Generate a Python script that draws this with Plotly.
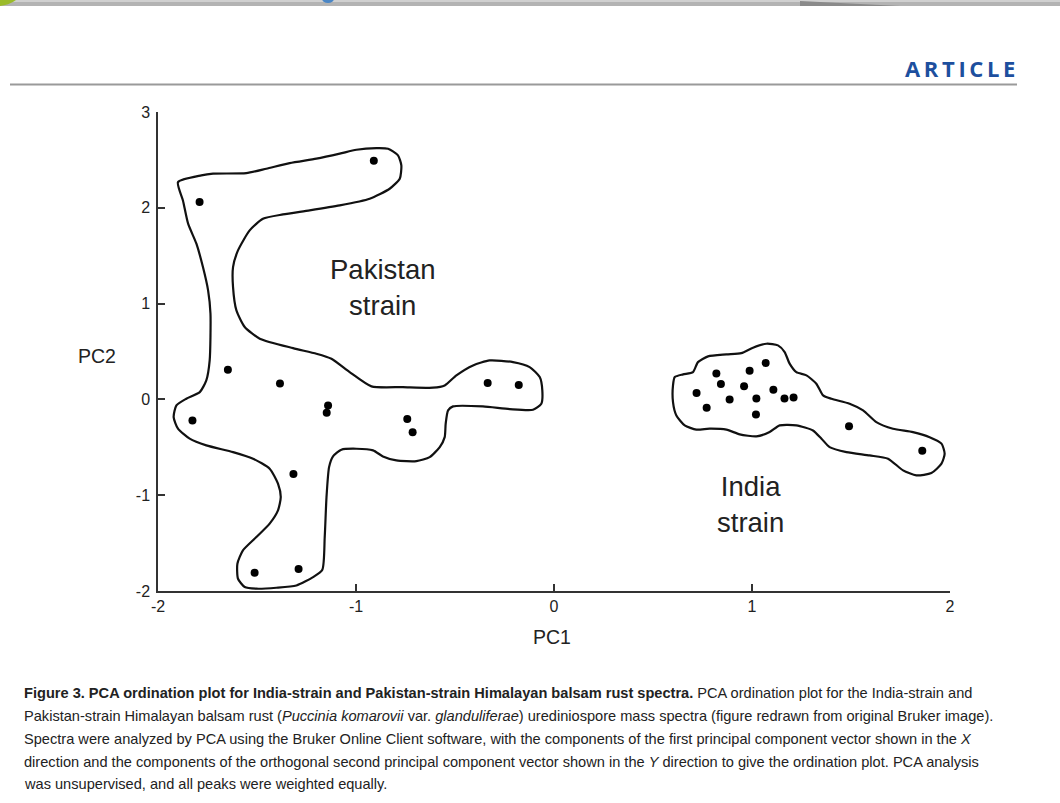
import plotly.graph_objects as go

# ---------------- data ----------------
pak_pc1 = [-0.91, -1.79, -1.647, -1.384, -1.141, -1.148, -1.826, -0.741, -0.714,
           -0.335, -0.178, -1.316, -1.29, -1.512]
pak_pc2 = [2.49, 2.06, 0.31, 0.167, -0.063, -0.139, -0.219, -0.205, -0.344,
           0.17, 0.15, -0.78, -1.77, -1.81]

ind_pc1 = [0.72, 0.82, 0.843, 0.771, 0.887, 0.96, 0.988, 1.069, 1.022, 1.02,
           1.108, 1.164, 1.21, 1.49, 1.86]
ind_pc2 = [0.066, 0.27, 0.16, -0.087, 0.0, 0.136, 0.30, 0.38, 0.01, -0.157,
           0.10, 0.01, 0.02, -0.28, -0.535]

pak_hull_x = [-1.899, -1.781, -1.722, -1.554, -1.453, -1.335, -1.2, -1.082, -0.998, -0.897,
              -0.838, -0.788, -0.771, -0.779, -0.83, -0.931, -1.082, -1.234, -1.369, -1.47,
              -1.537, -1.596, -1.621, -1.621, -1.604, -1.562, -1.486, -1.318, -1.2, -1.124,
              -1.032, -0.922, -0.763, -0.611, -0.552, -0.493, -0.409, -0.325, -0.207, -0.123,
              -0.072, -0.059, -0.064, -0.106, -0.224, -0.359, -0.51, -0.535, -0.547, -0.552,
              -0.577, -0.628, -0.695, -0.796, -0.864, -0.914, -0.998, -1.074, -1.116, -1.136,
              -1.149, -1.158, -1.17, -1.217, -1.301, -1.402, -1.503, -1.562, -1.596, -1.599,
              -1.571, -1.503, -1.436, -1.394, -1.38, -1.394, -1.436, -1.52, -1.621, -1.756,
              -1.84, -1.899, -1.921, -1.907, -1.857, -1.789, -1.756, -1.739, -1.735, -1.747,
              -1.773, -1.806, -1.848, -1.874, -1.899]
pak_hull_y = [2.268, 2.338, 2.356, 2.362, 2.408, 2.467, 2.513, 2.565, 2.606, 2.623,
              2.617, 2.547, 2.443, 2.304, 2.199, 2.095, 2.025, 1.973, 1.931, 1.886,
              1.764, 1.555, 1.381, 1.172, 0.929, 0.755, 0.634, 0.535, 0.477, 0.425,
              0.285, 0.136, 0.128, 0.122, 0.146, 0.251, 0.355, 0.407, 0.389, 0.337,
              0.233, 0.094, -0.045, -0.108, -0.101, -0.073, -0.073, -0.115, -0.254, -0.394,
              -0.498, -0.602, -0.644, -0.637, -0.595, -0.532, -0.515, -0.525, -0.595, -0.707,
              -1.02, -1.437, -1.778, -1.855, -1.942, -1.966, -1.976, -1.959, -1.872, -1.715,
              -1.576, -1.437, -1.297, -1.159, -1.02, -0.88, -0.723, -0.619, -0.55, -0.48,
              -0.41, -0.306, -0.185, -0.063, 0.007, 0.076, 0.198, 0.407, 0.895, 1.138,
              1.381, 1.625, 1.834, 2.077, 2.268]

ind_hull_x = [0.601, 0.61, 0.652, 0.702, 0.727, 0.778, 0.871, 0.946, 1.005, 1.073,
              1.131, 1.165, 1.19, 1.224, 1.275, 1.325, 1.359, 1.401, 1.493, 1.561,
              1.628, 1.712, 1.813, 1.897, 1.957, 1.973, 1.957, 1.906, 1.83, 1.763,
              1.687, 1.594, 1.477, 1.392, 1.351, 1.308, 1.224, 1.14, 1.089, 1.022,
              0.938, 0.871, 0.786, 0.719, 0.66, 0.618, 0.601, 0.601]
ind_hull_y = [0.146, 0.233, 0.261, 0.285, 0.389, 0.449, 0.47, 0.483, 0.54, 0.581,
              0.564, 0.494, 0.373, 0.285, 0.251, 0.164, 0.042, 0.007, -0.045, -0.115,
              -0.237, -0.306, -0.341, -0.394, -0.462, -0.567, -0.671, -0.769, -0.793, -0.741,
              -0.619, -0.585, -0.55, -0.498, -0.41, -0.324, -0.271, -0.271, -0.341, -0.386,
              -0.365, -0.316, -0.306, -0.316, -0.271, -0.167, -0.028, 0.146]

x_ticks = [-2, -1, 0, 1, 2]
y_ticks = [-2, -1, 0, 1, 2, 3]

caption_lines = [
    "<b>Figure 3. PCA ordination plot for India-strain and Pakistan-strain Himalayan balsam rust spectra.</b> PCA ordination plot for the India-strain and",
    "Pakistan-strain Himalayan balsam rust (<i>Puccinia komarovii</i> var. <i>glanduliferae</i>) urediniospore mass spectra (figure redrawn from original Bruker image).",
    "Spectra were analyzed by PCA using the Bruker Online Client software, with the components of the first principal component vector shown in the <i>X</i>",
    "direction and the components of the orthogonal second principal component vector shown in the <i>Y</i> direction to give the ordination plot. PCA analysis",
    "was unsupervised, and all peaks were weighted equally.",
]

# ---------------- figure ----------------
W, H = 1060, 803
ML, MR, MT, MB = 158, 110, 112, 212
PW, PH = W - ML - MR, H - MT - MB


def px(x):
    return (x - ML) / PW


def py(y):
    return (H - MB - y) / PH


fig = go.Figure()

for hx, hy in [(pak_hull_x, pak_hull_y), (ind_hull_x, ind_hull_y)]:
    fig.add_trace(go.Scatter(x=hx, y=hy, mode="lines",
                             line=dict(color="#111111", width=2.2, shape="spline", smoothing=0.6),
                             hoverinfo="skip", showlegend=False))

fig.add_trace(go.Scatter(x=pak_pc1, y=pak_pc2, mode="markers",
                         marker=dict(color="black", size=8), showlegend=False))
fig.add_trace(go.Scatter(x=ind_pc1, y=ind_pc2, mode="markers",
                         marker=dict(color="black", size=8), showlegend=False))

txt_font = dict(family="Liberation Sans, Arial, sans-serif", color="#222222")

annotations = [
    dict(x=-0.865, y=1.169, xref="x", yref="y", text="Pakistan<br>strain", showarrow=False,
         xanchor="center", yanchor="middle",
         font=dict(size=27.5, **txt_font), align="center"),
    dict(x=0.993, y=-1.096, xref="x", yref="y", text="India<br>strain", showarrow=False,
         xanchor="center", yanchor="middle",
         font=dict(size=27.5, **txt_font), align="center"),
    dict(x=px(97), y=py(356), xref="paper", yref="paper", text="PC2", showarrow=False,
         xanchor="center", yanchor="middle", font=dict(size=19.5, **txt_font)),
    dict(x=px(552), y=py(637), xref="paper", yref="paper", text="PC1", showarrow=False,
         xanchor="center", yanchor="middle", font=dict(size=19.5, **txt_font)),
    dict(x=px(1017), y=py(68), xref="paper", yref="paper", xanchor="right", yanchor="middle",
         text="A\u2009R\u2009T\u2009I\u2009C\u2009L\u2009E", showarrow=False,
         font=dict(size=22, family="Open Sans, sans-serif", color="#1d4f9e", weight="bold")),
]

cap_y = [693, 716, 739, 762, 784]
for line, yy in zip(caption_lines, cap_y):
    annotations.append(dict(x=px(22), y=py(yy), xref="paper", yref="paper",
                            xanchor="left", yanchor="middle", text=line, showarrow=False,
                            font=dict(size=14.6, **txt_font)))

shapes = [
    # header band
    dict(type="rect", xref="paper", yref="paper", x0=px(0), x1=px(W), y0=py(6), y1=py(0),
         fillcolor="#b3b3b3", line=dict(width=0), layer="below"),
    dict(type="rect", xref="paper", yref="paper", x0=px(0), x1=px(W), y0=py(2), y1=py(0),
         fillcolor="#d0d0d0", line=dict(width=0), layer="below"),
    dict(type="path", xref="paper", yref="paper",
         path=f"M {px(800)},{py(1)} L {px(900)},{py(6)} L {px(800)},{py(6)} Z",
         fillcolor="#8a8a8a", line=dict(width=0)),
    dict(type="circle", xref="paper", yref="paper", x0=px(-30), x1=px(25), y0=py(6), y1=py(-40),
         fillcolor="#9bbb2a", line=dict(width=0)),
    dict(type="circle", xref="paper", yref="paper", x0=px(322), x1=px(334), y0=py(3), y1=py(-6),
         fillcolor="#4a86c5", line=dict(width=0)),
    # rule under ARTICLE
    dict(type="line", xref="paper", yref="paper", x0=px(10), x1=px(1017), y0=py(84.5), y1=py(84.5),
         line=dict(color="#9a9a9a", width=2)),
]

axis_common = dict(showline=True, linecolor="#333333", linewidth=1.5, ticks="inside",
                   ticklen=7, tickwidth=1.5, tickcolor="#333333", showgrid=False,
                   zeroline=False, tickfont=dict(size=16, **txt_font), mirror=False)

fig.update_layout(
    width=W, height=H,
    margin=dict(l=ML, r=MR, t=MT, b=MB, pad=0),
    paper_bgcolor="white", plot_bgcolor="white",
    showlegend=False,
    xaxis=dict(range=[-2, 2], tickvals=x_ticks, ticktext=[str(v) for v in x_ticks], **axis_common),
    yaxis=dict(range=[-2, 3], tickvals=y_ticks, ticktext=[str(v) for v in y_ticks],
               ticklabelstandoff=3, **axis_common),
    annotations=annotations,
    shapes=shapes,
)

fig.write_html("out.html", config={"displayModeBar": False},
               post_script="document.body.style.margin='0';document.body.style.overflow='hidden';")
